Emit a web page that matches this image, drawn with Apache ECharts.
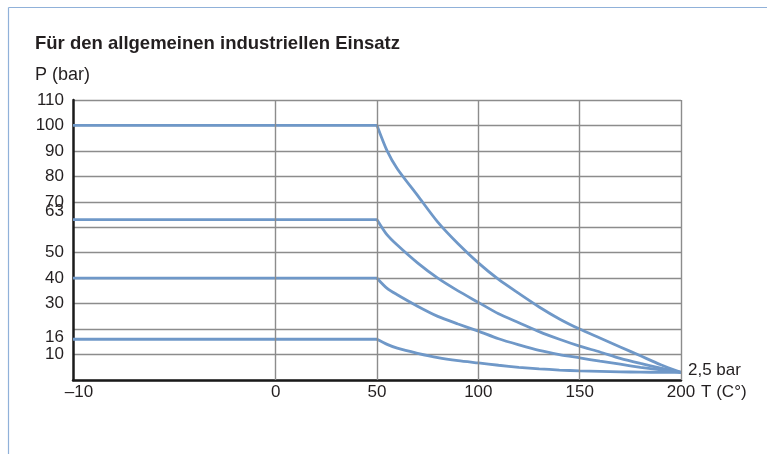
<!DOCTYPE html>
<html>
<head>
<meta charset="utf-8">
<script src="https://cdn.jsdelivr.net/npm/echarts@6/dist/echarts.min.js"></script>
<style>
html,body{margin:0;padding:0;background:#fff;}
#c{width:767px;height:454px;}
</style>
</head>
<body>
<div id="c"></div>
<script>
// ---- data (temperatures in °C, pressures in bar) ----
const titleText = 'Für den allgemeinen industriellen Einsatz';
const yName = 'P (bar)';
const xName = 'T (C°)';
const endLabel = '2,5 bar';
const xTicks = [-10, 0, 50, 100, 150, 200];
const yTicks = [10, 30, 40, 50, 70, 80, 90, 100, 110];
const yRatedTicks = [16, 63];
const curveT = [50, 55, 60, 70, 80, 90, 100, 110, 120, 130, 140, 150, 160, 170, 180, 190, 200];
const p100 = [100, 90, 83, 72.5, 62, 53.5, 46, 39.5, 34, 28.7, 24, 20, 16.5, 13, 9.5, 6, 3];
const p63  = [63, 57, 53, 46, 40, 35, 30.5, 26, 22.5, 19, 16, 13.3, 11, 8.5, 6.5, 4.7, 3];
const p40  = [40, 36, 33.5, 29, 25, 22, 19.2, 16.2, 13.8, 11.6, 10, 8.7, 7.4, 6.2, 5, 4, 3];
const p16  = [16, 14, 12.5, 10.5, 8.8, 7.6, 6.7, 5.8, 5, 4.4, 3.9, 3.6, 3.4, 3.2, 3.1, 3, 3];
const flatStart = -10;

// broken x scale: the -10..0 segment is drawn as wide as 100 degrees
const tx = t => (t < 0 ? t * 10 : t);
const fromTx = v => (v < 0 ? v / 10 : v);

const blue = '#6f98c8';
const grey = '#8c8c8c';
const font = 'Liberation Sans, Arial, Helvetica, sans-serif';
const txt = '#231f20';
const fs = 17;

function curveSeries(vals, withLabel) {
  const flat = {
    type: 'line', z: 3, symbol: 'none', silent: true,
    lineStyle: {color: blue, width: 2.8},
    data: [[tx(flatStart), vals[0]], [tx(curveT[0]), vals[0]]]
  };
  const curve = {
    type: 'line', z: 3, symbol: 'none', silent: true, smooth: 0.25,
    lineStyle: {color: blue, width: 2.8},
    data: curveT.map((t, i) => [tx(t), vals[i]])
  };
  if (withLabel) {
    curve.endLabel = {show: true, distance: 7, offset: [0, -2], formatter: endLabel,
                      fontFamily: font, fontSize: fs, color: txt};
  }
  return [flat, curve];
}

const chart = echarts.init(document.getElementById('c'), null, {renderer: 'canvas'});
chart.setOption({
  animation: false,
  backgroundColor: '#fff',
  title: {
    text: titleText, left: 30, top: 29,
    textStyle: {fontFamily: font, fontSize: 18.5, fontWeight: 'bold', color: txt}
  },
  graphic: [
    {type: 'line', shape: {x1: 8.5, y1: 7.5, x2: 767, y2: 7.5}, style: {stroke: '#90b1d9', lineWidth: 1.2}},
    {type: 'line', shape: {x1: 8.5, y1: 7.5, x2: 8.5, y2: 454}, style: {stroke: '#90b1d9', lineWidth: 1.2}},
    {type: 'text', left: 35, top: 66, style: {text: yName, fontFamily: font, fontSize: 18, fill: txt}}
  ],
  grid: {left: 73, right: 86, top: 100, bottom: 74},
  xAxis: {
    type: 'value', min: tx(-10), max: 200, interval: 50,
    name: xName, nameLocation: 'end', nameGap: 16,
    nameTextStyle: {fontFamily: font, fontSize: fs, color: txt, verticalAlign: 'top', align: 'left', padding: [4, 0, 0, 0]},
    axisLine: {show: true, onZero: false, lineStyle: {color: '#1a1a1a', width: 2.5}},
    axisTick: {show: false},
    splitLine: {show: false},
    axisLabel: {
      margin: 4, fontFamily: font, fontSize: fs, color: txt, hideOverlap: false,
      showMinLabel: true, showMaxLabel: true,
      customValues: xTicks.map(tx),
      formatter: v => {
        const t = fromTx(v);
        return t < 0 ? '{neg|\u2013' + Math.abs(t) + '}' : String(t);
      },
      rich: {
        neg: {fontFamily: font, fontSize: fs, color: txt, padding: [0, 0, 0, 12]}
      }
    }
  },
  yAxis: [
    {
      type: 'value', min: 0, max: 110, interval: 10, position: 'left',
      axisLine: {show: true, onZero: false, lineStyle: {color: '#1a1a1a', width: 2.5}},
      axisTick: {show: false},
      splitLine: {show: true, lineStyle: {color: grey, width: 1.4}},
      axisLabel: {
        margin: 9, fontFamily: font, fontSize: fs, color: txt, hideOverlap: false,
        showMinLabel: true, showMaxLabel: true,
        customValues: yTicks
      }
    },
    {
      type: 'value', min: 0, max: 110, interval: 10, position: 'left', offset: 0,
      axisLine: {show: false, onZero: false},
      axisTick: {show: false},
      splitLine: {show: false},
      axisLabel: {
        margin: 9, fontFamily: font, fontSize: fs, color: txt, lineHeight: 10, hideOverlap: false,
        showMinLabel: true, showMaxLabel: true,
        customValues: yRatedTicks,
        formatter: v => (v === 63 ? '{up|63}' : '{up2|16}'),
        rich: {
          up: {fontFamily: font, fontSize: fs, color: txt, lineHeight: 10, padding: [0, 0, 16, 0]},
          up2: {fontFamily: font, fontSize: fs, color: txt, lineHeight: 10, padding: [0, 0, 3, 0]}
        }
      }
    }
  ],
  series: [
    {
      type: 'line', z: 1, silent: true, data: [],
      markLine: {
        silent: true, symbol: 'none', label: {show: false},
        lineStyle: {color: grey, width: 1.4, type: 'solid'},
        data: xTicks.filter(t => t >= 0).map(t => ({xAxis: tx(t)}))
      }
    },
    ...curveSeries(p100, true),
    ...curveSeries(p63, false),
    ...curveSeries(p40, false),
    ...curveSeries(p16, false)
  ]
});
</script>
</body>
</html>
